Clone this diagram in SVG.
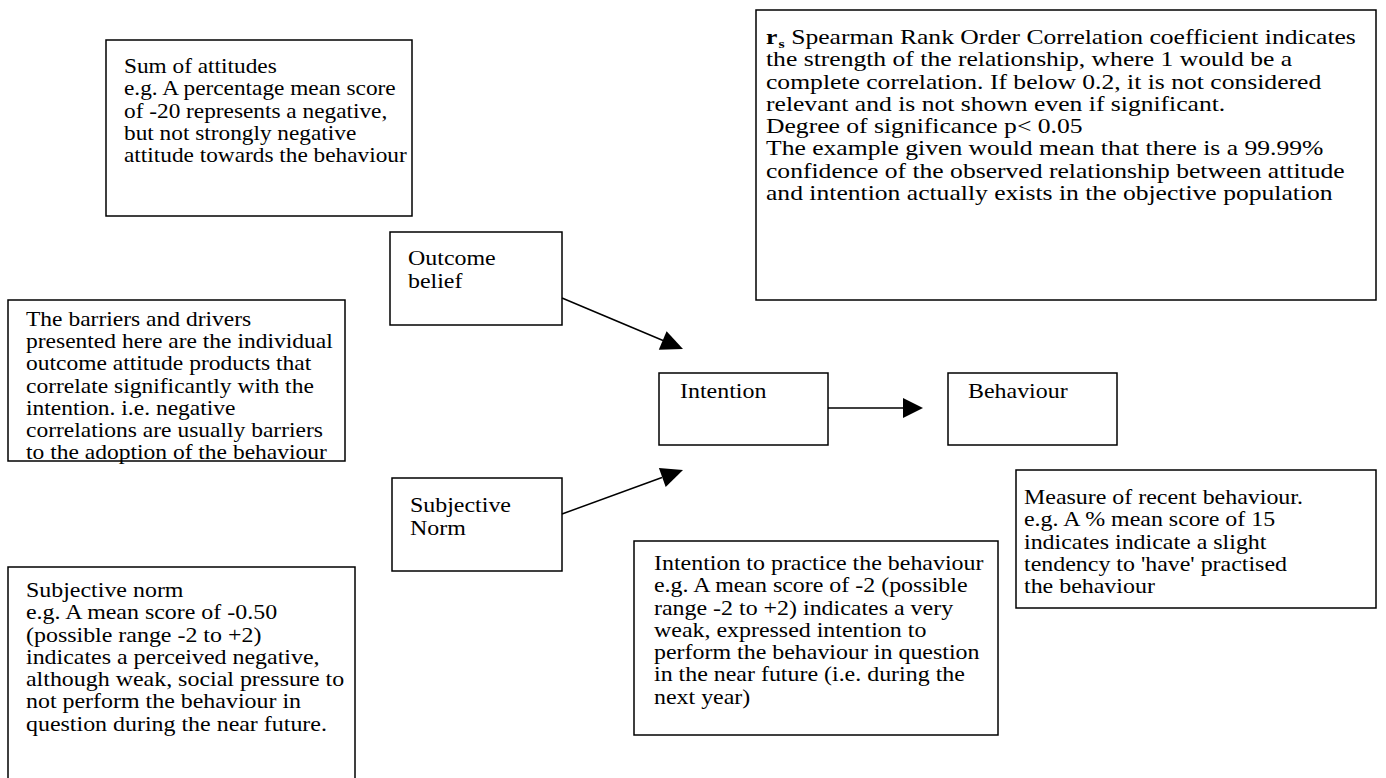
<svg xmlns="http://www.w3.org/2000/svg" width="1386" height="778" viewBox="0 0 1386 778">
  <defs>
    <style>
      .box { fill: #fff; stroke: #000; stroke-width: 1.5; }
      .txt { font-family: "Liberation Serif", "Times New Roman", serif; font-size: 21px; fill: #000; }
      .conn { stroke: #000; stroke-width: 1.5; fill: none; }
      .head { fill: #000; stroke: none; }
    </style>
  </defs>
  <rect width="1386" height="778" fill="#fff"/>

  <!-- explanatory notes (text is set slightly wide via an x scale) -->
  <g id="note-attitudes">
    <rect class="box" x="106" y="40" width="306" height="176"/>
    <text class="txt" transform="translate(124,73) scale(1.11,1)">
      <tspan x="0">Sum of attitudes</tspan>
      <tspan x="0" dy="22.3">e.g. A percentage mean score</tspan>
      <tspan x="0" dy="22.3">of -20 represents a negative,</tspan>
      <tspan x="0" dy="22.3">but not strongly negative</tspan>
      <tspan x="0" dy="22.3">attitude towards the behaviour</tspan>
    </text>
  </g>

  <g id="note-spearman">
    <rect class="box" x="756" y="10" width="620" height="290"/>
    <text class="txt" transform="translate(766,44) scale(1.22,1)">
      <tspan x="0" font-weight="bold">r</tspan><tspan font-weight="bold" font-size="13" dx="1" dy="4">s</tspan><tspan dy="-4">  Spearman Rank Order Correlation coefficient indicates</tspan>
      <tspan x="0" dy="22.3">the strength of the relationship, where 1 would be a</tspan>
      <tspan x="0" dy="22.3">complete correlation. If below 0.2, it is not considered</tspan>
      <tspan x="0" dy="22.3">relevant and is not shown even if significant.</tspan>
      <tspan x="0" dy="22.3">Degree of significance p&lt; 0.05</tspan>
      <tspan x="0" dy="22.3">The example given would mean that there is a 99.99%</tspan>
      <tspan x="0" dy="22.3">confidence of the observed relationship between attitude</tspan>
      <tspan x="0" dy="22.3">and intention actually exists in the objective population</tspan>
    </text>
  </g>

  <g id="note-barriers">
    <rect class="box" x="8" y="300" width="337" height="161"/>
    <text class="txt" transform="translate(26,326) scale(1.12,1)">
      <tspan x="0">The barriers and drivers</tspan>
      <tspan x="0" dy="22.2">presented here are the individual</tspan>
      <tspan x="0" dy="22.2">outcome attitude products that</tspan>
      <tspan x="0" dy="22.2">correlate significantly with the</tspan>
      <tspan x="0" dy="22.2">intention. i.e. negative</tspan>
      <tspan x="0" dy="22.2">correlations are usually barriers</tspan>
      <tspan x="0" dy="22.2">to the adoption of the behaviour</tspan>
    </text>
  </g>

  <g id="note-subjective-norm">
    <rect class="box" x="8" y="567" width="347" height="220"/>
    <text class="txt" transform="translate(26,597) scale(1.14,1)">
      <tspan x="0">Subjective norm</tspan>
      <tspan x="0" dy="22.3">e.g. A mean score of  -0.50</tspan>
      <tspan x="0" dy="22.3">(possible range -2 to +2)</tspan>
      <tspan x="0" dy="22.3">indicates a perceived negative,</tspan>
      <tspan x="0" dy="22.3">although weak, social pressure to</tspan>
      <tspan x="0" dy="22.3">not perform the behaviour in</tspan>
      <tspan x="0" dy="22.3">question during the near future.</tspan>
    </text>
  </g>

  <g id="note-intention">
    <rect class="box" x="634" y="541" width="364" height="194"/>
    <text class="txt" transform="translate(654,570) scale(1.14,1)">
      <tspan x="0">Intention to practice the behaviour</tspan>
      <tspan x="0" dy="22.3">e.g. A mean score of -2 (possible</tspan>
      <tspan x="0" dy="22.3">range  -2 to +2) indicates a very</tspan>
      <tspan x="0" dy="22.3">weak, expressed intention to</tspan>
      <tspan x="0" dy="22.3">perform the behaviour in question</tspan>
      <tspan x="0" dy="22.3">in the near future (i.e. during the</tspan>
      <tspan x="0" dy="22.3">next year)</tspan>
    </text>
  </g>

  <g id="note-behaviour">
    <rect class="box" x="1016" y="470" width="360" height="138"/>
    <text class="txt" transform="translate(1024,504) scale(1.14,1)">
      <tspan x="0">Measure of recent behaviour.</tspan>
      <tspan x="0" dy="22.3">e.g. A % mean score of 15</tspan>
      <tspan x="0" dy="22.3">indicates indicate a slight</tspan>
      <tspan x="0" dy="22.3">tendency to 'have' practised</tspan>
      <tspan x="0" dy="22.3">the behaviour</tspan>
    </text>
  </g>

  <!-- model nodes -->
  <g id="node-outcome-belief">
    <rect class="box" x="390" y="232" width="172" height="93"/>
    <text class="txt" transform="translate(408,265) scale(1.14,1)">
      <tspan x="0">Outcome</tspan>
      <tspan x="0" dy="23">belief</tspan>
    </text>
  </g>

  <g id="node-subjective-norm">
    <rect class="box" x="392" y="478" width="170" height="93"/>
    <text class="txt" transform="translate(410,512) scale(1.14,1)">
      <tspan x="0">Subjective</tspan>
      <tspan x="0" dy="23">Norm</tspan>
    </text>
  </g>

  <g id="node-intention">
    <rect class="box" x="659" y="373" width="169" height="72"/>
    <text class="txt" transform="translate(680,398) scale(1.14,1)">Intention</text>
  </g>

  <g id="node-behaviour">
    <rect class="box" x="948" y="373" width="169" height="72"/>
    <text class="txt" transform="translate(968,398) scale(1.14,1)">Behaviour</text>
  </g>

  <!-- connectors -->
  <g id="connectors">
    <line class="conn" x1="562" y1="298" x2="663" y2="340.5"/>
    <polygon class="head" points="683,349 658.8,349.7 666.6,331.3"/>
    <line class="conn" x1="562" y1="514" x2="662" y2="477.5"/>
    <polygon class="head" points="683,470 665.7,486.9 658.9,468.1"/>
    <line class="conn" x1="828" y1="408" x2="904" y2="408"/>
    <polygon class="head" points="923,408 903,398 903,418"/>
  </g>
</svg>
